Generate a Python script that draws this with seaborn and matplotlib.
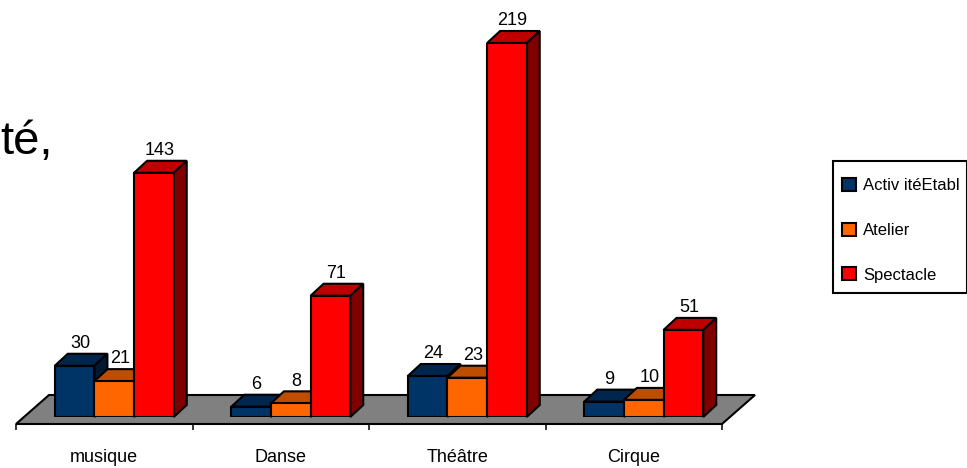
import matplotlib
matplotlib.use('Agg')
import matplotlib.pyplot as plt
import numpy as np
import pandas as pd
import seaborn as sns
from matplotlib.patches import Polygon, Rectangle

categories = ['musique', 'Danse', 'Théâtre', 'Cirque']
series_names = ['Activ itéEtabl', 'Atelier', 'Spectacle']
activite = [30, 6, 24, 9]
atelier = [21, 8, 23, 10]
spectacle = [143, 71, 219, 51]

front_colors = ['#003366', '#FF6600', '#FF0000']
top_colors = ['#00264D', '#BF4D00', '#BF0000']
side_colors = ['#001A33', '#803300', '#800000']

W, H = 967, 468
DEPTH_X, DEPTH_Y = 13, 12  # pixels
LW = 1.5

sns.set_theme(style='white')
plt.rcParams['font.family'] = ['Liberation Sans', 'DejaVu Sans']

df = pd.DataFrame({
    'categorie': categories * 3,
    'serie': [s for s in series_names for _ in categories],
    'valeur': activite + atelier + spectacle,
})


def box(left, top, right, bottom):
    return [left / W, 1 - bottom / H, (right - left) / W, (bottom - top) / H]


fig = plt.figure(figsize=(W / 100, H / 100), dpi=100)
fig.patch.set_facecolor('white')

# floor + category axis
floor = fig.add_axes(box(16, 395, 722, 424))
floor.set_xlim(-0.5, 3.5)
floor.set_ylim(0, 1)
floor.patch.set_visible(False)
for s in floor.spines.values():
    s.set_visible(False)
floor.add_patch(Polygon([(0, 0), (1, 0), (1 + 33 / 706, 1), (33 / 706, 1)], closed=True,
                        transform=floor.transAxes, facecolor='#808080', edgecolor='black',
                        linewidth=LW, clip_on=False))
floor.set_yticks([])
floor.set_xticks(np.arange(-0.5, 4), [''] * 5)
floor.set_xticks(np.arange(4), categories, minor=True)
floor.tick_params(axis='x', which='major', bottom=True, length=4.5, width=1.1, color='black')
floor.tick_params(axis='x', which='minor', bottom=False, length=0, pad=18, labelsize=13, labelcolor='black')

# bars
ax = fig.add_axes(box(26, 43, 732, 417))
ax.patch.set_visible(False)
sns.barplot(data=df, x='categorie', y='valeur', hue='serie', hue_order=series_names,
            order=categories, palette=front_colors, width=0.674, gap=0, saturation=1,
            edgecolor='black', linewidth=LW, ax=ax)
ax.set_xlim(-0.5, 3.5)
ax.set_ylim(0, 219)
ax.set_axis_off()
handles, labels = ax.get_legend_handles_labels()
ax.get_legend().remove()

dx = DEPTH_X * 4 / 706
dy = DEPTH_Y * 219 / 374
for i, container in enumerate(ax.containers):
    base_z = 3 + i
    for bar, val in zip(container, container.datavalues):
        x0, x1 = bar.get_x(), bar.get_x() + bar.get_width()
        y1 = bar.get_height()
        bar.set_zorder(base_z + 0.2)
        ax.add_patch(Polygon([(x0, y1), (x1, y1), (x1 + dx, y1 + dy), (x0 + dx, y1 + dy)], closed=True,
                             facecolor=top_colors[i], edgecolor='black', linewidth=LW,
                             clip_on=False, zorder=base_z))
        ax.add_patch(Polygon([(x1, 0), (x1 + dx, dy), (x1 + dx, y1 + dy), (x1, y1)], closed=True,
                             facecolor=side_colors[i], edgecolor='black', linewidth=LW,
                             clip_on=False, zorder=base_z))
        ax.annotate(f'{val:.0f}', ((x0 + x1) / 2 + dx / 2, y1 + dy), xytext=(-0.7, 1.2),
                    textcoords='offset points', ha='center', va='bottom', fontsize=13,
                    color='black', annotation_clip=False, zorder=10)

# legend frame drawn apart so rows can sit where they do in the original
fig.add_artist(Rectangle((832.5 / W, 1 - 293 / H), 134 / W, 132 / H, transform=fig.transFigure,
                         facecolor='white', edgecolor='black', linewidth=LW, zorder=5))
leg = fig.legend(handles, labels, loc='upper left', bbox_to_anchor=(842 / W, 1 - 178 / H),
                 frameon=False, fontsize=12, handlelength=0.85, handleheight=0.85,
                 handletextpad=0.42, labelspacing=1.75, borderpad=0, borderaxespad=0,
                 labelcolor='black')
leg.set_zorder(6)

# leftover slide text behind the chart
fig.text(0, 1 - 154 / H, 'té,', fontsize=34, color='black', ha='left', va='baseline')

fig.savefig('out.png', dpi=100)
